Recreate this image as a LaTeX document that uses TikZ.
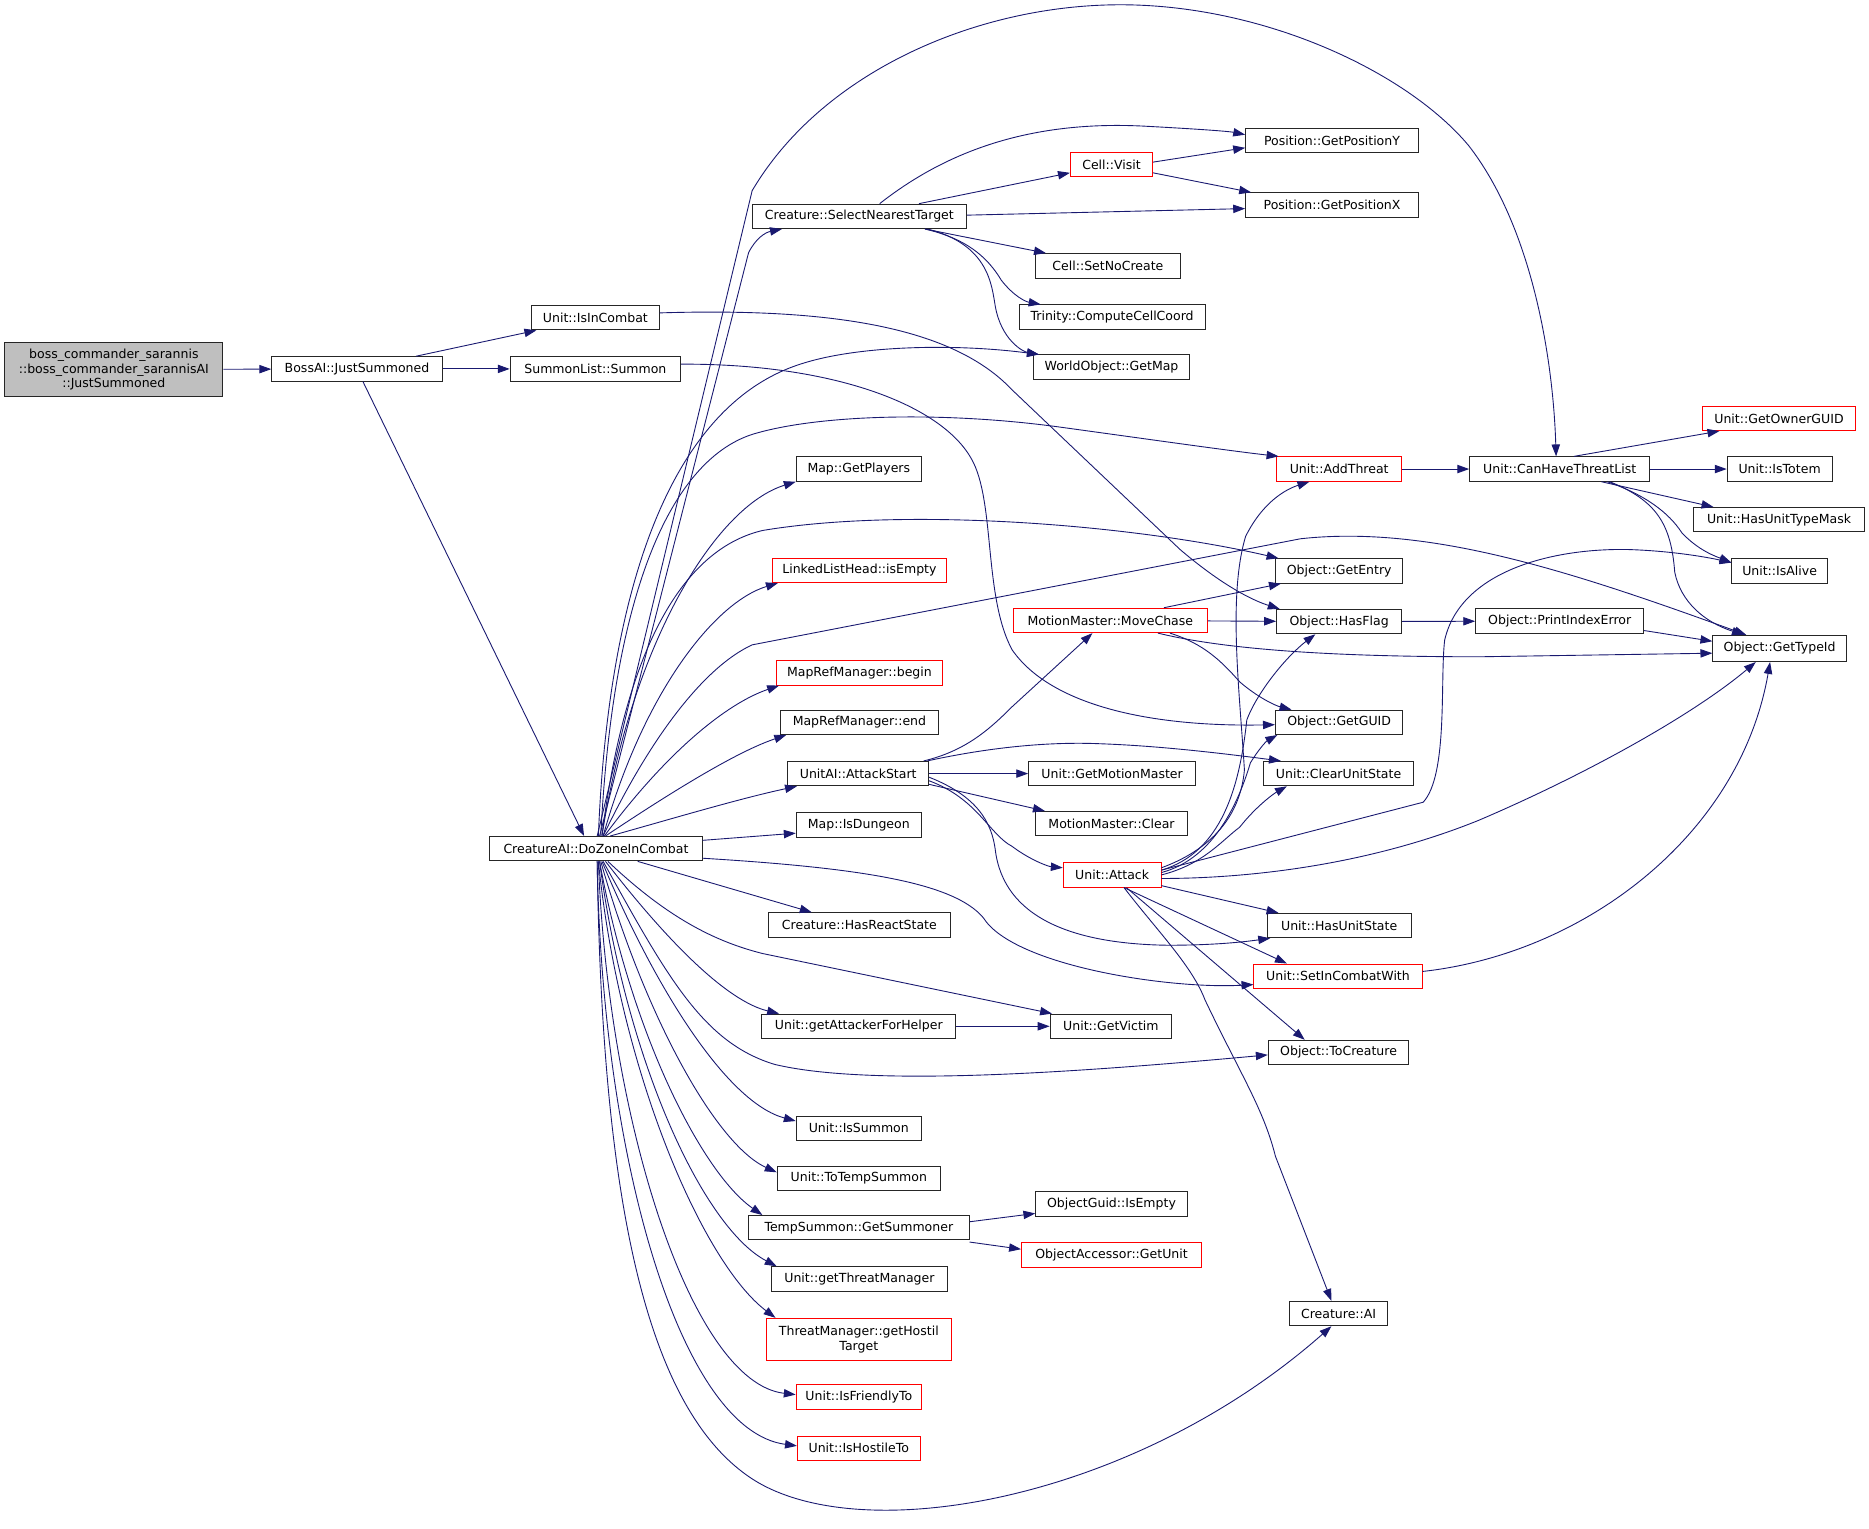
\documentclass[tikz,border=0pt]{standalone}
\usepackage{fontspec}
\setmainfont{DejaVu Sans}
\usepackage{tikz}
\usetikzlibrary{arrows.meta}
\definecolor{callblue}{HTML}{191970}
\definecolor{rootgray}{HTML}{BFBFBF}

\begin{document}
\begin{tikzpicture}[x=1pt, y=-1pt]
	% Define styles
	\tikzset{
		fn/.style={rectangle, draw=black!85, line width=0.8pt, fill=white, inner sep=1pt, minimum height=20.5pt, font=\fontsize{10.5}{12.5}\selectfont},
		fnred/.style={fn, draw=red},
		fnroot/.style={fn, fill=rootgray, align=center},
		line/.style={draw=callblue, line width=0.75pt, -{Triangle[length=10pt, width=7pt]}}
	}
	\useasboundingbox (0,0) rectangle (1568,1282);
	
	% Nodes
	\node[fnroot, minimum width=183pt, minimum height=46pt] (root) at (95.5,310) {boss\_commander\_sarannis\\::boss\_commander\_sarannisAI\\::JustSummoned};
	\node[fn, minimum width=143pt] (bossai) at (299.5,309.5) {BossAI::JustSummoned};
	\node[fn, minimum width=107pt] (isincombat) at (499.5,266.5) {Unit::IsInCombat};
	\node[fn, minimum width=143pt] (summon) at (499.5,309.5) {SummonList::Summon};
	\node[fn, minimum width=178pt] (dozone) at (500,712) {CreatureAI::DoZoneInCombat};
	
	\node[fn, minimum width=180pt] (selectnearest) at (721,181.5) {Creature::SelectNearestTarget};
	\node[fn, minimum width=105pt] (getplayers) at (720.5,393.5) {Map::GetPlayers};
	\node[fnred, minimum width=146pt] (listempty) at (721,478.5) {LinkedListHead::isEmpty};
	\node[fnred, minimum width=140pt] (refbegin) at (721,564.5) {MapRefManager::begin};
	\node[fn, minimum width=132pt] (refend) at (721,606) {MapRefManager::end};
	\node[fn, minimum width=118pt] (attackstart) at (720,649) {UnitAI::AttackStart};
	\node[fn, minimum width=105pt] (isdungeon) at (720.5,692) {Map::IsDungeon};
	\node[fn, minimum width=152pt] (hasreact) at (721,776) {Creature::HasReactState};
	\node[fn, minimum width=163pt] (attackerhelper) at (720.5,861) {Unit::getAttackerForHelper};
	\node[fn, minimum width=105pt] (issummon) at (720.5,946.5) {Unit::IsSummon};
	\node[fn, minimum width=137pt] (totempsummon) at (720.5,988.5) {Unit::ToTempSummon};
	\node[fn, minimum width=185pt] (getsummoner) at (720.5,1030) {TempSummon::GetSummoner};
	\node[fn, minimum width=148pt] (threatmgr) at (721,1073) {Unit::getThreatManager};
	\node[fnred, minimum width=155pt, minimum height=35pt, align=center] (hostiltarget) at (720.5,1123.5) {ThreatManager::getHostil\\Target};
	\node[fnred, minimum width=105pt] (isfriendly) at (720.5,1172) {Unit::IsFriendlyTo};
	\node[fnred, minimum width=103pt] (ishostile) at (720.5,1215) {Unit::IsHostileTo};
	
	\node[fnred, minimum width=69pt] (cellvisit) at (932.5,138) {Cell::Visit};
	\node[fn, minimum width=121pt] (setnocreate) at (929.5,223) {Cell::SetNoCreate};
	\node[fn, minimum width=156pt] (computecell) at (933,266) {Trinity::ComputeCellCoord};
	\node[fn, minimum width=131pt] (getmap) at (932.5,308) {WorldObject::GetMap};
	\node[fnred, minimum width=163pt] (movechase) at (931.5,520.5) {MotionMaster::MoveChase};
	\node[fn, minimum width=140pt] (getmotion) at (933,649) {Unit::GetMotionMaster};
	\node[fn, minimum width=127pt] (mmclear) at (932.5,691) {MotionMaster::Clear};
	\node[fnred, minimum width=82pt] (attack) at (933,734) {Unit::Attack};
	\node[fn, minimum width=102pt] (getvictim) at (932,861) {Unit::GetVictim};
	\node[fn, minimum width=127pt] (guidempty) at (932.5,1010) {ObjectGuid::IsEmpty};
	\node[fnred, minimum width=151pt] (getunit) at (932.5,1053) {ObjectAccessor::GetUnit};
	
	\node[fn, minimum width=145pt] (posy) at (1117.5,118) {Position::GetPositionY};
	\node[fn, minimum width=145pt] (posx) at (1117.5,172) {Position::GetPositionX};
	\node[fnred, minimum width=105pt] (addthreat) at (1123.5,393.5) {Unit::AddThreat};
	\node[fn, minimum width=107pt] (getentry) at (1123.5,479) {Object::GetEntry};
	\node[fn, minimum width=105pt] (hasflag) at (1123.5,521.5) {Object::HasFlag};
	\node[fn, minimum width=107pt] (getguid) at (1123.5,606) {Object::GetGUID};
	\node[fn, minimum width=126pt] (clearstate) at (1123,649) {Unit::ClearUnitState};
	\node[fn, minimum width=121pt] (hasstate) at (1123.5,776.5) {Unit::HasUnitState};
	\node[fnred, minimum width=141pt] (setincombat) at (1122.5,819) {Unit::SetInCombatWith};
	\node[fn, minimum width=118pt] (tocreature) at (1123,883) {Object::ToCreature};
	\node[fn, minimum width=82pt] (creatureai) at (1123,1102) {Creature::AI};
	
	\node[fn, minimum width=151pt] (canhave) at (1308.5,393.5) {Unit::CanHaveThreatList};
	\node[fn, minimum width=141pt] (printindex) at (1308.5,521) {Object::PrintIndexError};
	
	\node[fnred, minimum width=129pt] (ownerguid) at (1492.5,351) {Unit::GetOwnerGUID};
	\node[fn, minimum width=88pt] (istotem) at (1493,393.5) {Unit::IsTotem};
	\node[fn, minimum width=143pt] (typemask) at (1492.5,436) {Unit::HasUnitTypeMask};
	\node[fn, minimum width=80pt] (isalive) at (1493,479) {Unit::IsAlive};
	\node[fn, minimum width=112pt, minimum height=22pt] (typeid) at (1493,544) {Object::GetTypeId};
	
	% Arrows
	\path [line] (root) -- (bossai);
	\path [line] (bossai) -- (isincombat);
	\path [line] (bossai) -- (summon);
	\path [line] ([xshift=5]bossai.south) -- ([xshift=-10]dozone.north);
	\path [line] ([yshift=4]isincombat.east) .. controls (700,258) and (800,275) .. (849,327) -- (990,461) .. controls (1030,495) and (1055,505) .. ([xshift=3]hasflag.north west);
	\path [line] ([yshift=4]summon.east) .. controls (700,305) and (790,340) .. (815,385) .. controls (835,420) and (825,500) .. (849,545) .. controls (880,590) and (960,610) .. ([yshift=-2]getguid.west);
	
	\path [line] ([xshift=3]dozone.north) -- (628,212) .. controls (634,200) and (642,195) .. ([xshift=-65]selectnearest.south);
	\path [line] ([xshift=1]dozone.north) -- (631,160) .. controls (690,60) and (820,4) .. (940,4) .. controls (1060,4) and (1180,60) .. (1232,122) .. controls (1285,190) and (1303,300) .. ([xshift=-3]canhave.north);
	\path [line] ([xshift=2]dozone.north) .. controls (510,500) and (560,340) .. (673,305) .. controls (720,290) and (800,288) .. ([xshift=5]getmap.north west);
	\path [line] ([xshift=4]dozone.north) .. controls (515,480) and (570,380) .. (636,363) .. controls (690,348) and (790,345) .. (887,358) .. controls (960,368) and (1030,378) .. ([xshift=2]addthreat.north west);
	\path [line] ([xshift=5]dozone.north) .. controls (530,540) and (600,425) .. (getplayers.south west);
	\path [line] ([xshift=5]dozone.north) .. controls (525,540) and (575,460) .. (640,445) .. controls (760,425) and (950,440) .. ([xshift=3]getentry.north west);
	\path [line] ([xshift=6]dozone.north) .. controls (545,620) and (590,560) .. (631,541) -- (1091,452) .. controls (1200,440) and (1320,480) .. ([xshift=-28]typeid.north);
	\path [line] ([xshift=6]dozone.north) .. controls (540,580) and (600,505) .. ([xshift=5]listempty.south west);
	\path [line] ([xshift=7]dozone.north) .. controls (560,630) and (610,590) .. ([xshift=3]refbegin.south west);
	\path [line] ([xshift=8]dozone.north) .. controls (570,660) and (620,630) .. ([xshift=5]refend.south west);
	\path [line] ([xshift=12]dozone.north) .. controls (560,688) and (620,670) .. ([xshift=8]attackstart.south west);
	\path [line] ([yshift=7]dozone.east) -- ([yshift=-7]isdungeon.west);
	\path [line] ([xshift=35]dozone.south) -- ([xshift=-40]hasreact.north);
	\path [line] ([yshift=-8]dozone.east) .. controls (720,728) and (800,740) .. (825,770) .. controls (850,810) and (980,830) .. ([yshift=-7]setincombat.west);
	\path [line] ([xshift=10]dozone.south) .. controls (560,770) and (600,790) .. (640,800) -- ([xshift=2]getvictim.north west);
	\path [line] ([xshift=8]dozone.south) .. controls (560,790) and (610,840) .. ([xshift=15]attackerhelper.north west);
	\path [line] ([xshift=6]dozone.south) .. controls (560,820) and (590,875) .. (650,893) .. controls (730,912) and (900,900) .. ([yshift=-2]tocreature.west);
	\path [line] ([xshift=5]dozone.south) .. controls (550,830) and (610,925) .. ([yshift=6]issummon.west);
	\path [line] ([xshift=4]dozone.south) .. controls (540,850) and (600,960) .. ([yshift=5]totempsummon.west);
	\path [line] ([xshift=3]dozone.south) .. controls (530,870) and (590,985) .. ([xshift=12]getsummoner.north west);
	\path [line] ([xshift=3]dozone.south) .. controls (525,890) and (590,1030) .. ([xshift=5]threatmgr.north west);
	\path [line] ([xshift=2]dozone.south) .. controls (520,900) and (590,1060) .. ([xshift=8]hostiltarget.north west);
	\path [line] ([xshift=2]dozone.south) .. controls (510,940) and (580,1160) .. ([yshift=2]isfriendly.west);
	\path [line] ([xshift=1]dozone.south) .. controls (505,970) and (570,1200) .. ([yshift=2]ishostile.west);
	\path [line] ([xshift=1]dozone.south) .. controls (505,1000) and (540,1180) .. (630,1240) .. controls (720,1300) and (950,1260) .. ([xshift=-6]creatureai.south);
	
	\path [line] ([xshift=17]selectnearest.north) .. controls (790,130) and (860,100) .. (963,106) .. controls (1000,108) and (1030,110) .. ([yshift=5]posy.west);
	\path [line] ([xshift=50]selectnearest.north) -- ([yshift=-7]cellvisit.west);
	\path [line] ([yshift=1]selectnearest.east) -- ([yshift=-3]posx.west);
	\path [line] ([xshift=55]selectnearest.south) -- ([xshift=-52]setnocreate.north);
	\path [line] ([xshift=55]selectnearest.south) .. controls (810,200) and (828,215) .. (840,235) .. controls (850,248) and (860,253) .. ([xshift=-60]computecell.north);
	\path [line] ([xshift=57]selectnearest.south) .. controls (830,205) and (832,240) .. (835,257) .. controls (840,285) and (858,295) .. ([xshift=5]getmap.north west);
	\path [line] ([yshift=2]cellvisit.east) -- ([yshift=-6]posy.west);
	\path [line] ([yshift=-7]cellvisit.east) -- ([xshift=5]posx.north west);
	
	\path [line] ([xshift=55]attackstart.north) .. controls (810,630) and (830,612) .. (849,593) -- ([xshift=-15]movechase.south);
	\path [line] ([xshift=58]attackstart.north) .. controls (830,627) and (880,622) .. (924,624) .. controls (980,626) and (1040,634) .. ([xshift=15]clearstate.north west);
	\path [line] (attackstart) -- (getmotion);
	\path [line] ([yshift=-9]attackstart.east) -- ([xshift=8]mmclear.north west);
	\path [line] ([yshift=-6]attackstart.east) .. controls (820,670) and (830,700) .. (849,710) .. controls (865,722) and (880,727) .. ([yshift=6]attack.west);
	\path [line] ([yshift=-3]attackstart.east) .. controls (820,668) and (832,690) .. (835,713) .. controls (842,770) and (900,792) .. (980,793) .. controls (1020,793) and (1045,790) .. ([xshift=3]hasstate.south west);
	
	\path [line] ([xshift=45]movechase.north) -- ([xshift=5]getentry.south west);
	\path [line] (movechase) -- (hasflag);
	\path [line] ([xshift=40]movechase.south) .. controls (1020,543) and (1100,551) .. (1241,551) -- ([yshift=-4]typeid.west);
	\path [line] ([xshift=50]movechase.south) .. controls (1010,540) and (1025,555) .. (1040,572) .. controls (1055,585) and (1070,592) .. ([xshift=-40]getguid.north);
	
	\path [line] ([yshift=6]attack.east) .. controls (1010,715) and (1040,690) .. (1044,646) .. controls (1040,580) and (1030,500) .. (1045,450) .. controls (1060,420) and (1080,410) .. ([xshift=-25]addthreat.south);
	\path [line] ([yshift=4]attack.east) .. controls (1025,715) and (1040,660) .. (1046,604) .. controls (1055,580) and (1080,550) .. ([xshift=-20]hasflag.south);
	\path [line] ([yshift=2]attack.east) .. controls (1020,720) and (1040,670) .. (1049,640) .. controls (1055,630) and (1062,622) .. ([xshift=2]getguid.south west);
	\path [line] (attack.east) .. controls (1010,725) and (1025,705) .. (1040,694) .. controls (1055,675) and (1070,665) .. ([xshift=20]clearstate.south west);
	\path [line] ([yshift=4]attack.east) -- (1194,673) .. controls (1215,650) and (1208,570) .. (1212,537) .. controls (1225,480) and (1300,460) .. (1365,461) .. controls (1400,462) and (1430,467) .. ([yshift=7]isalive.west);
	\path [line] ([yshift=-3]attack.east) .. controls (1050,737) and (1150,725) .. (1241,688) .. controls (1330,650) and (1420,600) .. ([xshift=-20]typeid.south);
	\path [line] ([yshift=-9]attack.east) -- ([xshift=10]hasstate.north west);
	\path [line] ([xshift=10]attack.south) -- ([xshift=28]setincombat.north west);
	\path [line] ([xshift=12]attack.south) -- ([xshift=31]tocreature.north west);
	\path [line] ([xshift=10]attack.south) .. controls (970,780) and (1000,810) .. (1011,839) .. controls (1040,900) and (1060,930) .. (1070,970) -- ([xshift=-6]creatureai.north);
	
	\path [line] (addthreat) -- (canhave);
	\path [line] (hasflag) -- (printindex);
	\path [line] ([yshift=-8]printindex.east) -- ([yshift=6]typeid.west);
	\path [line] ([xshift=12]canhave.north) -- ([xshift=-50]ownerguid.south);
	\path [line] (canhave) -- (istotem);
	\path [line] ([xshift=35]canhave.south) -- ([xshift=-55]typemask.north);
	\path [line] ([xshift=40]canhave.south) .. controls (1380,415) and (1400,430) .. (1411,447) .. controls (1425,462) and (1440,467) .. ([yshift=7]isalive.west);
	\path [line] ([xshift=42]canhave.south) .. controls (1390,420) and (1402,440) .. (1405,480) .. controls (1410,505) and (1430,522) .. ([xshift=-30]typeid.north);
	\path [line] ([yshift=4]setincombat.east) .. controls (1330,800) and (1460,700) .. ([xshift=-8]typeid.south);
	
	\path [line] (attackerhelper) -- (getvictim);
	\path [line] ([yshift=5]getsummoner.east) -- ([yshift=-8]guidempty.west);
	\path [line] ([yshift=-12]getsummoner.east) -- ([yshift=5]getunit.west);
\end{tikzpicture}
\end{document}
